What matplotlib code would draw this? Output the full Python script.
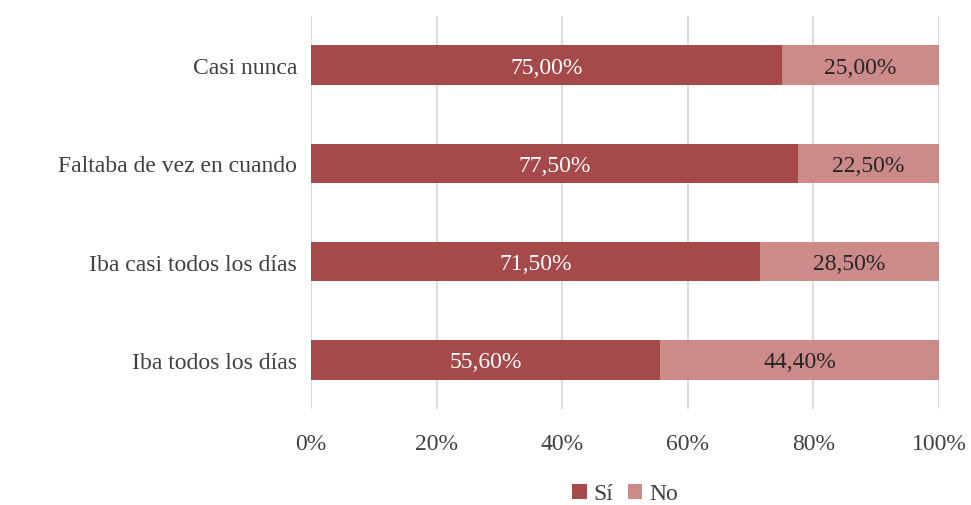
import numpy as np
import matplotlib.pyplot as plt

categories = ["Iba todos los días", "Iba casi todos los días",
              "Faltaba de vez en cuando", "Casi nunca"]
si = [55.6, 71.5, 77.5, 75.0]
no = [44.4, 28.5, 22.5, 25.0]

plt.rcParams['font.family'] = ['Liberation Serif', 'DejaVu Serif']

fig = plt.figure(figsize=(9.71, 5.06), dpi=100)
ax = fig.add_axes([0.3203, 0.1897, 0.6467, 0.7767])

y = np.arange(len(categories))
c_si = '#a5494a'
c_no = '#cc8a89'
fs = 17
ax.barh(y, si, height=0.4, color=c_si, label='Sí', zorder=3)
ax.barh(y, no, left=si, height=0.4, color=c_no, label='No', zorder=3)

for i in range(len(categories)):
    ax.text(si[i] / 2, y[i] - 0.02, f"{si[i]:.2f}%".replace('.', ','),
            ha='center', va='center', color='white', fontsize=fs, zorder=4)
    ax.text(si[i] + no[i] / 2, y[i] - 0.02, f"{no[i]:.2f}%".replace('.', ','),
            ha='center', va='center', color='#262626', fontsize=fs, zorder=4)

ax.set_xlim(0, 100)
ax.set_ylim(-0.5, 3.5)
ax.set_xticks(np.arange(0, 101, 20))
ax.set_xticklabels([f"{v}%" for v in range(0, 101, 20)])
ax.set_yticks(y)
ax.set_yticklabels(categories)
ax.tick_params(axis='both', length=0, labelsize=fs, colors='#404040')
ax.tick_params(axis='x', pad=17)
ax.tick_params(axis='y', pad=10)
ax.grid(axis='x', color='#d9d9d9', linewidth=1.3, zorder=0)
for s in ax.spines.values():
    s.set_visible(False)

ax.legend(loc='lower center', bbox_to_anchor=(0.5, -0.285), ncol=2,
          frameon=False, fontsize=fs, handlelength=0.6, handleheight=0.6,
          handletextpad=0.3, columnspacing=0.6, labelcolor='#404040',
          borderpad=0.2)

plt.savefig('out.png', dpi=100)
